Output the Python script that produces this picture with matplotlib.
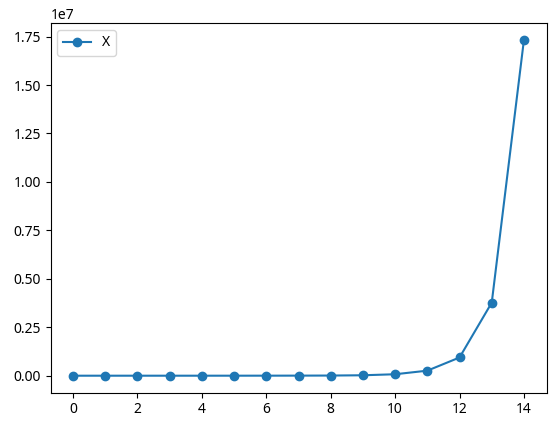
import matplotlib
matplotlib.use("Agg")
import matplotlib.pyplot as plt

plt.rcParams['font.family'] = ['Noto Sans', 'DejaVu Sans']

x_vals = list(range(15))
series_x = [1, 3, 10, 40, 150, 500, 1500, 4000, 8000, 22000, 75000, 260000, 940000, 3770000, 17340000]

fig = plt.figure(figsize=(5.55, 4.26), dpi=100)
ax = fig.add_axes([50.5/555, (426-392.5)/426, 496/555, 369.6/426])
ax.plot(x_vals, series_x, marker='o', label='X')
ax.legend(loc='upper left')
fig.savefig('out.png', dpi=100)
